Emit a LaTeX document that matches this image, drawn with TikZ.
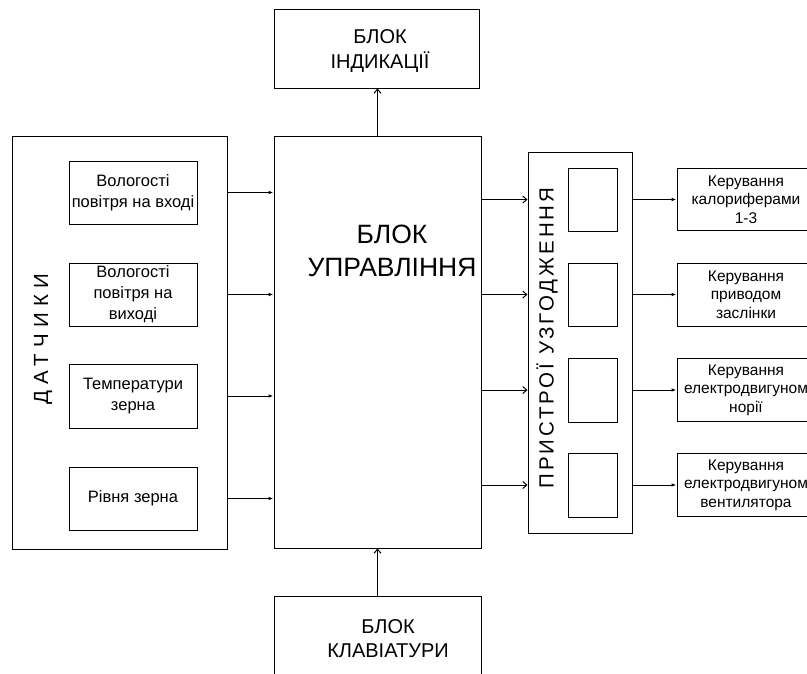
\documentclass[tikz,border=0pt]{standalone}
\usepackage{fontspec}
\setmainfont{Liberation Sans}
\usetikzlibrary{arrows.meta}
\tikzset{
  box/.style={draw, line width=1pt, rectangle, inner sep=0pt, align=center},
  sensfont/.style={font=\fontsize{16.5}{21}\selectfont},
  rfont/.style={font=\fontsize{15.5}{18.5}\selectfont},
  arrfill/.style={line width=1pt, -{Latex[length=5pt,width=3.6pt]}},
  arrbarb/.style={line width=1pt, -{Straight Barb[length=4pt,width=7pt]}},
}
\begin{document}
\begin{tikzpicture}[x=1pt,y=-1pt]
\clip (0,0) rectangle (807,673);
\useasboundingbox (0,0) rectangle (807,673);
% sensors
\node[box, minimum width=215pt, minimum height=413pt] (sens) at (119.5,342.5) {};
\node[font=\fontsize{20.5}{24}\selectfont\addfontfeature{LetterSpace=30}, rotate=90] (senstxt) at (43,339) {ДАТЧИКИ};
\node[box, sensfont, minimum width=128pt, minimum height=63pt] (s1) at (133,192.5) {Вологості\\повітря на вході};
\node[box, sensfont, minimum width=128pt, minimum height=63pt] (s2) at (133,294.5) {Вологості\\повітря на\\виході};
\node[box, sensfont, minimum width=128pt, minimum height=64pt] (s3) at (133,396) {Температури\\зерна};
\node[box, sensfont, minimum width=128pt, minimum height=63pt] (s4) at (133,498.5) {Рівня зерна};
% control
\node[box, minimum width=207pt, minimum height=412pt] (ctrl) at (377.5,342) {};
\node[font=\fontsize{26.5}{33}\selectfont, align=center] (ctrltxt) at (392,251) {БЛОК\\УПРАВЛІННЯ};
% indication
\node[box, minimum width=205pt, minimum height=79pt] (ind) at (376.5,48.5) {};
\node[font=\fontsize{20}{25}\selectfont, align=center] (indtxt) at (380,51) {БЛОК\\ІНДИКАЦІЇ};
% keyboard
\node[box, minimum width=207pt, minimum height=104pt] (kbd) at (377.5,648) {};
\node[font=\fontsize{20}{24}\selectfont, align=center] (kbdtxt) at (388,638.5) {БЛОК\\КЛАВІАТУРИ};
% matching
\node[box, minimum width=104pt, minimum height=381pt] (match) at (580,342.5) {};
\node[font=\fontsize{20.5}{24}\selectfont\addfontfeature{LetterSpace=14}, rotate=90] (matchtxt) at (547,338) {ПРИСТРОЇ УЗГОДЖЕННЯ};
\node[box, minimum width=49pt, minimum height=63pt] (m1) at (592.5,199.5) {};
\node[box, minimum width=49pt, minimum height=63pt] (m2) at (592.5,294.5) {};
\node[box, minimum width=49pt, minimum height=64pt] (m3) at (592.5,390) {};
\node[box, minimum width=49pt, minimum height=64pt] (m4) at (592.5,485) {};
% outputs
\node[box, rfont, minimum width=138pt, minimum height=62pt] (r1) at (746,199.5) {Керування\\калориферами\\1-3};
\node[box, rfont, minimum width=138pt, minimum height=63pt] (r2) at (746,294.5) {Керування\\приводом\\заслінки};
\node[box, rfont, minimum width=138pt, minimum height=63pt] (r3) at (746,390) {Керування\\електродвигуном\\норії};
\node[box, rfont, minimum width=138pt, minimum height=63pt] (r4) at (746,485) {Керування\\електродвигуном\\вентилятора};
% connectors
\foreach \s in {s1,s2,s3,s4}
  \draw[arrfill] (\s -| sens.east) -- (\s -| ctrl.west);
\foreach \m in {m1,m2,m3,m4}
  \draw[arrbarb] (\m -| ctrl.east) -- (\m -| match.west);
\foreach \m/\r in {m1/r1,m2/r2,m3/r3,m4/r4}
  \draw[arrfill] (\m -| match.east) -- (\r.west);
\draw[arrbarb] (ctrl.north) -- (ctrl.north |- ind.south);
\draw[arrbarb] (kbd.north) -- (ctrl.south);
\end{tikzpicture}
\end{document}
